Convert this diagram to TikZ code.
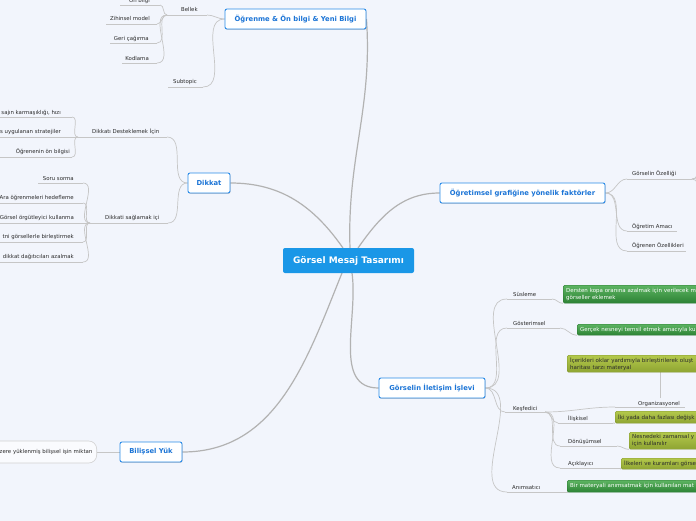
\documentclass[tikz,border=0pt]{standalone}
\usepackage{fontspec}
\setmainfont{DejaVu Sans}
\usetikzlibrary{shadows}
\definecolor{bg}{HTML}{F2F5FC}
\definecolor{linegray}{HTML}{C6C6C6}
\definecolor{branchgray}{HTML}{B2B2B2}
\definecolor{txtgray}{HTML}{2B2B2B}
\definecolor{topicblue}{HTML}{2A8BE8}
\definecolor{topictext}{HTML}{1B74D6}
\definecolor{centralblue}{HTML}{1A97E7}
\definecolor{gtop}{HTML}{5DB462}
\definecolor{gbot}{HTML}{2C8234}
\definecolor{otop}{HTML}{B4C94C}
\definecolor{obot}{HTML}{8EA432}
\pgfdeclarelayer{back}
\pgfdeclarelayer{lines}
\pgfsetlayers{back,lines,main}
\tikzset{
  lbl/.style={font=\fontsize{5.4}{6.4}\selectfont, text=txtgray, inner sep=0pt},
  uline/.style={draw=linegray, line width=0.6pt},
  conn/.style={draw=linegray, line width=0.7pt},
  branch/.style={draw=branchgray, line width=1.2pt},
  topic/.style={draw=topicblue, fill=white, rounded corners=2pt, line width=0.9pt,
    text=topictext, font=\fontsize{6.8}{8}\selectfont\bfseries, inner sep=0pt,
    minimum height=20pt,
    drop shadow={shadow xshift=0.5pt, shadow yshift=-0.8pt, opacity=0.3, fill=black!60}},
  central/.style={fill=centralblue, rounded corners=2pt, text=white,
    font=\fontsize{9}{10}\selectfont\bfseries, inner sep=0pt,
    minimum width=131pt, minimum height=25pt},
  gbox/.style={anchor=north west, rounded corners=1.5pt, top color=gtop, bottom color=gbot,
    draw=gbot!90!black, line width=0.4pt, text=white, font=\fontsize{5.5}{6.8}\selectfont,
    align=left, text width=160pt, inner xsep=3pt, inner ysep=0pt},
  obox/.style={gbox, top color=otop, bottom color=obot, draw=obot!90!black, text=txtgray},
  bubble/.style={anchor=east, draw=linegray!80, fill=white!60!bg, rounded corners=8pt,
    font=\fontsize{5.4}{6.4}\selectfont, text=txtgray, text width=100pt, align=right,
    inner xsep=4pt, minimum height=22pt, line width=0.6pt}
}
\newcommand\MLab[8]{%
  \node[lbl,anchor=#2] (#1) at (#3,#4) {#8};
  \coordinate (#1L) at (#5,#7);
  \coordinate (#1R) at (#6,#7);
  \draw[uline] (#1L) -- (#1R);}
\begin{document}
\begin{tikzpicture}[x=1pt,y=-1pt]
\useasboundingbox (0,0) rectangle (696,520);
\clip (0,0) rectangle (696,520);
\begin{pgfonlayer}{back}
  \fill[bg] (-20,-20) rectangle (720,540);
\end{pgfonlayer}

% central and main topics
\node[central] (C) at (348.5,260.5) {Görsel Mesaj Tasarımı};
\node[topic, minimum width=141pt] (T1) at (295.5,19) {Öğrenme \& Ön bilgi \& Yeni Bilgi};
\node[topic, minimum width=42pt] (T2) at (209,183) {Dikkat};
\node[topic, minimum width=165pt] (T3) at (522.5,193) {Öğretimsel grafiğine yönelik faktörler};
\node[topic, minimum width=106pt] (T4) at (432,388) {Görselin İletişim İşlevi};
\node[topic, minimum width=62pt] (T5) at (151,452) {Bilişsel Yük};

\coordinate (c1) at (343,248);
\coordinate (c2) at (350,248);
\coordinate (c3) at (358,248);
\coordinate (c4) at (342,273);
\coordinate (c5) at (352,273);

% Öğrenme group
\MLab{bel}{base west}{181}{11}{167}{207}{15}{Bellek}
\MLab{sub}{base west}{173}{83}{168}{203}{87}{Subtopic}
\MLab{onb}{base east}{150}{2}{120}{160}{5}{Ön bilgi}
\MLab{zih}{base east}{150}{20}{106}{157}{24}{Zihinsel model}
\MLab{ger}{base east}{149}{40}{110}{157}{43}{Geri çağırma}
\MLab{kod}{base east}{149}{60}{122}{157}{63}{Kodlama}

% Dikkat group
\MLab{dd}{base west}{92}{133}{78}{167}{137}{Dikkatı Desteklemek İçin}
\MLab{ds}{base west}{105}{219}{90}{168}{223}{Dikkati sağlamak içi}
\MLab{mk}{base east}{61}{114}{-5}{72}{117}{sajın karmaşıklığı, hızı}
\MLab{us}{base east}{61}{133}{-5}{72}{137}{s uygulanan stratejiler}
\MLab{ob}{base east}{70}{153}{-5}{72}{157}{Öğrenenin ön bilgisi}
\MLab{ss}{base east}{74}{180}{38}{83}{183}{Soru sorma}
\MLab{ah}{base east}{74}{199}{-5}{83}{203}{Ara öğrenmeleri hedefleme}
\MLab{go}{base east}{74}{219}{-5}{83}{223}{Görsel örgütleyici kullanma}
\MLab{mg}{base east}{74}{238}{-5}{83}{242}{tni görsellerle birleştirmek}
\MLab{da}{base east}{74}{258}{-5}{83}{262}{dikkat dağıtıcıları azalmak}

% Öğretimsel group
\MLab{gz}{base west}{632}{175}{627}{692}{179}{Görselin Özelliği}
\MLab{oa}{base west}{632}{228}{627}{677}{231}{Öğretim Amacı}
\MLab{oz}{base west}{632}{247}{627}{686}{251}{Öğrenen Özellikleri}
\coordinate (gx1) at (706,140);
\coordinate (gx2) at (706,160);
\coordinate (gx3) at (706,205);

% Görselin İletişim group
\MLab{su}{base west}{513}{296}{507}{552}{299}{Süsleme}
\MLab{gs}{base west}{513}{325}{507}{560}{328}{Gösterimsel}
\MLab{ke}{base west}{513}{410}{505}{545}{412}{Keşfedici}
\MLab{an}{base west}{512}{489}{507}{567}{492}{Anımsatıcı}
\MLab{org}{base west}{638}{405}{615}{685}{407}{Organizasyonel}
\MLab{il}{base west}{568}{420}{558}{613}{423}{İlişkisel}
\MLab{dn}{base west}{568}{443}{560}{617}{446}{Dönüşümsel}
\MLab{ac}{base west}{568}{465}{560}{620}{468}{Açıklayıcı}

\node[gbox, minimum height=18pt] (bsu) at (563,285) {Dersten kopa oranına azalmak için verilecek m\\görseller eklemek};
\node[gbox, minimum height=11pt] (bgs) at (577,324) {Gerçek nesneyi temsil etmek amacıyla ku};
\node[obox, minimum height=17pt] (borg) at (567,355) {İçerikleri oklar yardımıyla birleştirilerek oluşt\\haritası tarzı materyal};
\node[obox, minimum height=12pt] (bil) at (615,411) {İki yada daha fazlası değişk};
\node[obox, minimum height=17pt] (bdn) at (629,432) {Nesnedeki zamansal y\\için kullanılır};
\node[obox, minimum height=11pt] (bac) at (621,458) {İlkeleri ve kuramları görse};
\node[gbox, minimum height=12pt] (ban) at (567,480) {Bir materyali anımsatmak için kullanılan mat};
\coordinate (orgT) at (660,398);
\coordinate (orgB) at (660,372);

% Bilişsel Yük child
\node[bubble] (bk) at (97,452) {zere yüklenmiş bilişsel işin miktarı};

\begin{pgfonlayer}{lines}
  % main branches
  \draw[branch] (c2) to[out=92,in=-86] (T1.east);
  \draw[branch] (c1) to[out=125,in=0] (T2.east);
  \draw[branch] (c3) to[out=55,in=180] (T3.west);
  \draw[branch] (c5) to[out=-82,in=180] (T4.west);
  \draw[branch] (c4) to[out=-112,in=0] (T5.east);
  % Öğrenme
  \draw[conn] (belR) to[out=0,in=180] (T1.west);
  \draw[conn] (subR) to[out=0,in=180] (T1.west);
  \draw[conn] (belL) to[out=180,in=0] (onbR);
  \draw[conn] (belL) to[out=180,in=0] (zihR);
  \draw[conn] (belL) to[out=180,in=0] (gerR);
  \draw[conn] (belL) to[out=180,in=0] (kodR);
  % Dikkat
  \draw[conn] (T2.west) to[out=180,in=0] (ddR);
  \draw[conn] (T2.west) to[out=180,in=0] (dsR);
  \draw[conn] (ddL) to[out=180,in=0] (mkR);
  \draw[conn] (ddL) to[out=180,in=0] (usR);
  \draw[conn] (ddL) to[out=180,in=0] (obR);
  \draw[conn] (dsL) to[out=180,in=0] (ssR);
  \draw[conn] (dsL) to[out=180,in=0] (ahR);
  \draw[conn] (dsL) to[out=180,in=0] (goR);
  \draw[conn] (dsL) to[out=180,in=0] (mgR);
  \draw[conn] (dsL) to[out=180,in=0] (daR);
  % Öğretimsel
  \draw[conn] (T3.east) to[out=0,in=180] (gzL);
  \draw[conn] (T3.east) to[out=0,in=180] (oaL);
  \draw[conn] (T3.east) to[out=0,in=180] (ozL);
  \draw[conn] (gzR) to[out=0,in=180] (gx1);
  \draw[conn] (gzR) to[out=0,in=180] (gx2);
  \draw[conn] (gzR) to[out=0,in=180] (gx3);
  % Görselin İletişim
  \draw[conn] (T4.east) to[out=0,in=180] (suL);
  \draw[conn] (T4.east) to[out=0,in=180] (gsL);
  \draw[conn] (T4.east) to[out=0,in=180] (keL);
  \draw[conn] (T4.east) to[out=0,in=180] (anL);
  \draw[conn] (suR) to[out=0,in=180] (bsu.south west);
  \draw[conn] (gsR) to[out=0,in=180] (bgs.south west);
  \draw[conn] (keR) to[out=0,in=180] (orgL);
  \draw[conn] (keR) to[out=0,in=180] (ilL);
  \draw[conn] (keR) to[out=0,in=180] (dnL);
  \draw[conn] (keR) to[out=0,in=180] (acL);
  \draw[conn] (orgT) -- (orgB);
  \draw[conn] (ilR) to[out=0,in=180] (bil.south west);
  \draw[conn] (dnR) to[out=0,in=180] (bdn.south west);
  \draw[conn] (acR) to[out=0,in=180] (bac.south west);
  \draw[conn] (anR) to[out=0,in=180] (ban.south west);
  % Bilişsel
  \draw[conn] (bk.east) -- (T5.west);
\end{pgfonlayer}
\end{tikzpicture}
\end{document}
